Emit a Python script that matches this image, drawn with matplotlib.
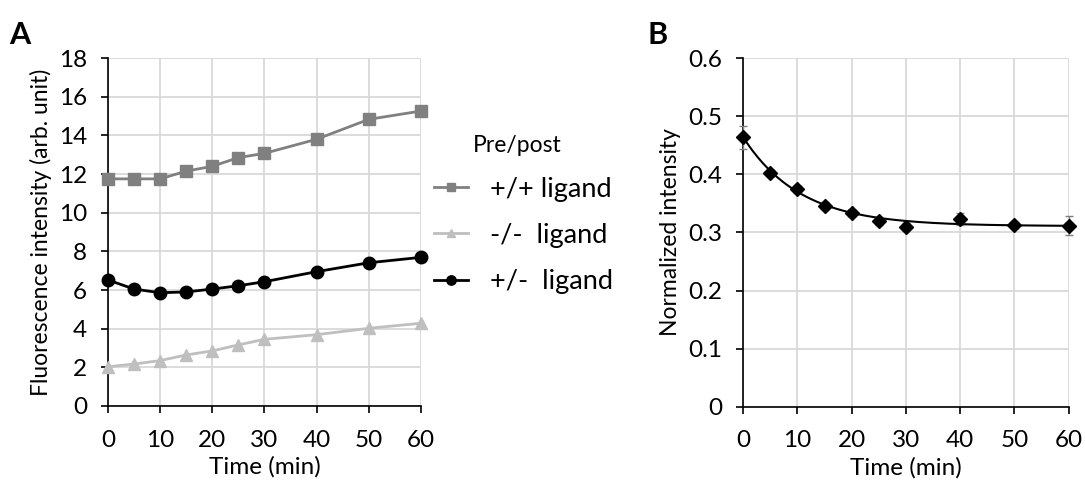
import matplotlib
matplotlib.use('Agg')
import matplotlib.pyplot as plt
import numpy as np

plt.rcParams['font.family'] = ['Lato', 'DejaVu Sans']

# panel A data
time_a = [0, 5, 10, 15, 20, 25, 30, 40, 50, 60]
pp_ligand = [11.75, 11.75, 11.75, 12.15, 12.4, 12.85, 13.07, 13.8, 14.83, 15.26]
mm_ligand = [2.03, 2.17, 2.35, 2.64, 2.85, 3.16, 3.45, 3.69, 4.02, 4.28]
pm_ligand = [6.52, 6.05, 5.86, 5.9, 6.05, 6.22, 6.43, 6.95, 7.41, 7.69]
legend_labels = ['+/+ ligand', '-/-  ligand', '+/-  ligand']

# panel B data
time_b = [0, 5, 10, 15, 20, 25, 30, 40, 50, 60]
norm_int = [0.464, 0.403, 0.375, 0.346, 0.334, 0.319, 0.310, 0.323, 0.313, 0.312]
norm_err = [0.02, 0.005, 0.005, 0.006, 0.005, 0.006, 0.006, 0.01, 0.005, 0.017]
time_err = [0.6, 0.6, 0.6, 0.6, 0.6, 0.6, 0.6, 0.6, 0.6, 0.6]
# exponential fit
fit_offset = 0.311
fit_amp = 0.153
fit_tau = 10.5

fig = plt.figure(figsize=(10.85, 4.92), dpi=100)
axA = fig.add_axes([0.0995, 0.1748, 0.2885, 0.7072])
axB = fig.add_axes([0.685, 0.1735, 0.3, 0.708])

grid_c = '#d9d9d9'
fs = 17.5

def style(ax):
    ax.spines['top'].set_visible(False)
    ax.spines['right'].set_visible(False)
    ax.spines['left'].set_linewidth(1.2)
    ax.spines['bottom'].set_linewidth(1.2)
    ax.grid(True, color=grid_c, linewidth=1.3)
    ax.set_axisbelow(True)
    ax.tick_params(direction='out', length=5, width=1.2, labelsize=fs)
    ax.tick_params(axis='x', pad=12)
    ax.tick_params(axis='y', pad=10)
    ax.set_xlim(0, 60)
    ax.set_xticks([0, 10, 20, 30, 40, 50, 60])
    ax.set_xlabel('Time (min)', fontsize=17.5, labelpad=4)

axA.plot(time_a, pp_ligand, color='#808080', marker='s', markersize=8, linewidth=2, label=legend_labels[0], clip_on=False, zorder=3)
axA.plot(time_a, mm_ligand, color='#bfbfbf', marker='^', markersize=8, linewidth=2, label=legend_labels[1], clip_on=False, zorder=3)
axA.plot(time_a, pm_ligand, color='#000000', marker='o', markersize=9, linewidth=2, label=legend_labels[2], clip_on=False, zorder=3)
axA.set_ylim(0, 18)
axA.set_yticks(range(0, 19, 2))
style(axA)
axA.set_ylabel('Fluorescence intensity (arb. unit)', fontsize=16.5, labelpad=5)
leg = axA.legend(loc='upper left', bbox_to_anchor=(0.965, 0.85), frameon=False, fontsize=19.5,
                 title='Pre/post', title_fontsize=16.5, handlelength=1.25, labelspacing=0.78,
                 handletextpad=0.8, markerscale=0.75)
leg._legend_box.align = 'left'
leg.get_title().set_position((38, 0))

tt = np.linspace(0, 60, 200)
fit = fit_offset + fit_amp * np.exp(-tt / fit_tau)
axB.plot(tt, fit, color='black', linewidth=1.5, zorder=3)
axB.errorbar(time_b, norm_int, yerr=norm_err, xerr=time_err, fmt='D', color='black',
             markersize=7, ecolor='#808080', elinewidth=1, capsize=3, clip_on=False, zorder=4)
axB.set_ylim(0, 0.6)
axB.set_yticks([0, 0.1, 0.2, 0.3, 0.4, 0.5, 0.6])
axB.set_yticklabels(['0', '0.1', '0.2', '0.3', '0.4', '0.5', '0.6'])
style(axB)
axB.set_ylabel('Normalized intensity', fontsize=16.5, labelpad=5)

fig.text(0.008, 0.91, 'A', fontsize=22, fontweight='bold')
fig.text(0.597, 0.91, 'B', fontsize=22, fontweight='bold')

fig.savefig('out.png', dpi=100)
